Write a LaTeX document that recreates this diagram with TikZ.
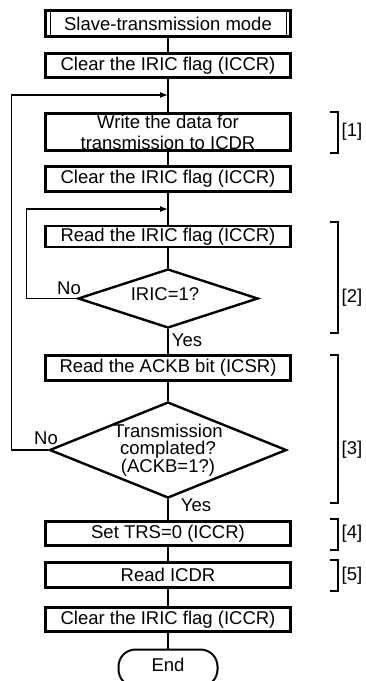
\documentclass[tikz,border=0pt]{standalone}
\usepackage{fontspec}
\setmainfont{Liberation Sans}
\usetikzlibrary{shapes.geometric,arrows.meta}

\begin{document}
\begin{tikzpicture}[x=1pt,y=-1pt,
    font=\fontsize{18.5}{21}\selectfont,
    box/.style={draw,line width=2.6pt,minimum width=245pt,minimum height=24.5pt,inner sep=0pt,align=center},
    dec/.style={draw,diamond,line width=2.4pt,inner sep=0pt},
    link/.style={line width=1.3pt},
    back/.style={link,-{Latex[length=8pt,width=6pt]}}]
  \useasboundingbox (0,0) rectangle (366,681);
  % main column
  \node[box,minimum height=26.5pt] (mode) at (168,23.5) {Slave-transmission mode};
  \draw[link] ([xshift=6pt]mode.north west) -- ([xshift=6pt]mode.south west)
    ([xshift=-5pt]mode.north east) -- ([xshift=-5pt]mode.south east);
  \node[box] (clr1) at (168,65.5) {Clear the IRIC flag (ICCR)};
  \node[box,minimum height=36.5pt] (write) at (168,132) {Write the data for\\transmission to ICDR};
  \node[box,minimum height=25.5pt] (clr2) at (168,179) {Clear the IRIC flag (ICCR)};
  \node[box,minimum height=21pt] (rdiric) at (168,236.5) {Read the IRIC flag (ICCR)};
  \node[dec,minimum width=180pt,minimum height=59pt] (dec1) at (168,298.5) {};
  \node (dec1txt) at (165,294) {IRIC=1?};
  \node[box,minimum height=25.5pt] (rdack) at (168,368) {Read the ACKB bit (ICSR)};
  \node[dec,minimum width=237pt,minimum height=96pt] (dec2) at (168,450) {};
  \node[align=center,font=\fontsize{18.5}{17}\selectfont] (dec2txt) at (168,450)
    {Transmission\\complated?\\(ACKB=1?)};
  \node[box] (trs) at (168,533.5) {Set TRS=0 (ICCR)};
  \node[box,minimum height=25.5pt] (icdr) at (168,575) {Read ICDR};
  \node[box] (clr3) at (168,619.5) {Clear the IRIC flag (ICCR)};
  \node[draw,line width=2pt,rounded corners=17pt,minimum width=99pt,minimum height=37pt] (stop) at (168,668) {};
  \node (stoptxt) at (168,665) {End};
  \draw[link] (mode) -- (clr1) -- (write) -- (clr2) -- (rdiric) -- (dec1) -- (rdack)
    -- (dec2) -- (trs) -- (icdr) -- (clr3) -- (stop);
  % loops back
  \coordinate (j1) at (168,95);
  \coordinate (j2) at (168,209);
  \draw[back] (dec1.west) -- ++(-50,0) |- (j2);
  \draw[back] (dec2.west) -- ++(-37,0) |- (j1);
  \node (no1) at (69,288) {No};
  \node (yes1) at (187,340) {Yes};
  \node (no2) at (46,438) {No};
  \node (yes2) at (196,505) {Yes};
  % step brackets
  \foreach \t/\b/\m/\n in {112/153/132/1,222/333/298/2,355/503/450/3,519/550/534/4,560/591/576/5}{
    \draw[link] (330,\t) -- (338,\t) -- (338,\b) -- (330,\b);
    \node (lab\n) at (352,\m) {[\n]};}
\end{tikzpicture}
\end{document}
